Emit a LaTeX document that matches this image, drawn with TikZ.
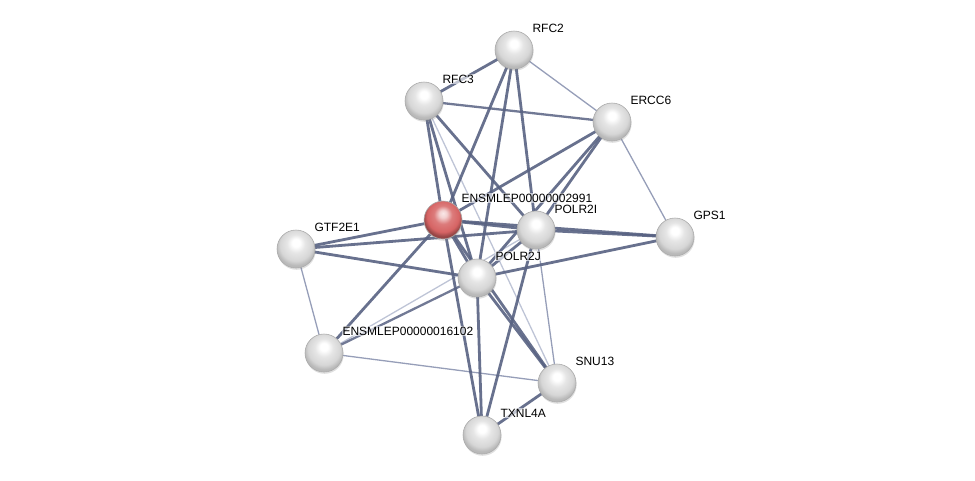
\documentclass[tikz,border=0pt]{standalone}
\usepackage{fontspec}
\setmainfont{Liberation Sans}
\usetikzlibrary{backgrounds,shadows}
\definecolor{edgedark}{RGB}{88,98,130}
\definecolor{edgethin}{RGB}{150,158,184}
\definecolor{edgelight}{RGB}{190,196,214}
\definecolor{protred}{RGB}{214,100,100}
\pgfdeclareradialshading{greyball}{\pgfpoint{0bp}{9bp}}{%
  color(0bp)=(white); color(5bp)=(white); color(12bp)=(gray!20);
  color(21bp)=(gray!32); color(26bp)=(gray!55); color(50bp)=(gray!55)}
\pgfdeclareradialshading{redball}{\pgfpoint{0bp}{9bp}}{%
  color(0bp)=(protred!15!white); color(5bp)=(protred!30!white); color(12bp)=(protred!85!white);
  color(21bp)=(protred); color(26bp)=(protred!70!black); color(50bp)=(protred!70!black)}
\tikzset{
  prot/.style={circle, minimum size=38pt, inner sep=0pt, shading=greyball, draw=gray!65, line width=0.6pt,
    drop shadow={opacity=0.25, shadow xshift=0.6pt, shadow yshift=-1.8pt}},
  seed/.style={circle, minimum size=38pt, inner sep=0pt, shading=redball, draw=gray!65, line width=0.6pt,
    drop shadow={opacity=0.25, shadow xshift=0.6pt, shadow yshift=-1.8pt}},
  lbl/.style={anchor=base west, inner sep=0.8pt, fill=white, fill opacity=0.6, text opacity=1, font=\fontsize{12}{14}\selectfont},
  strong/.style={draw=edgedark, line width=2.8pt, opacity=0.9},
  medium/.style={draw=edgedark, line width=2.3pt, opacity=0.85},
  weak/.style={draw=edgethin, line width=1.3pt},
  faint/.style={draw=edgelight, line width=1.3pt},
}
\begin{document}
\begin{tikzpicture}[x=1pt,y=-1pt]
\useasboundingbox (0,0) rectangle (975,480);
% nodes
\node[prot] (RFC2) at (514,50) {};
\node[prot] (RFC3) at (424,101) {};
\node[prot] (ERCC6) at (612,122) {};
\node[seed] (E2991) at (443,220) {};
\node[prot] (POLR2I) at (536,230) {};
\node[prot] (GPS1) at (675,237) {};
\node[prot] (GTF2E1) at (296,249) {};
\node[prot] (POLR2J) at (477,278) {};
\node[prot] (E16102) at (324,353) {};
\node[prot] (SNU13) at (557,383) {};
\node[prot] (TXNL4A) at (482,435) {};
% labels
\node[lbl] (lRFC2) at ([shift={(17.5,-18)}]RFC2.center) {RFC2};
\node[lbl] (lRFC3) at ([shift={(17.5,-18)}]RFC3.center) {RFC3};
\node[lbl] (lERCC6) at ([shift={(17.5,-18)}]ERCC6.center) {ERCC6};
\node[lbl] (lE2991) at ([shift={(17.5,-18)}]E2991.center) {ENSMLEP00000002991};
\node[lbl] (lPOLR2I) at ([shift={(17.5,-17)}]POLR2I.center) {POLR2I};
\node[lbl] (lGPS1) at ([shift={(17.5,-18)}]GPS1.center) {GPS1};
\node[lbl] (lGTF2E1) at ([shift={(17.5,-17.5)}]GTF2E1.center) {GTF2E1};
\node[lbl] (lPOLR2J) at ([shift={(17.5,-18)}]POLR2J.center) {POLR2J};
\node[lbl] (lE16102) at ([shift={(17.5,-17.5)}]E16102.center) {ENSMLEP00000016102};
\node[lbl] (lSNU13) at ([shift={(17.5,-18)}]SNU13.center) {SNU13};
\node[lbl] (lTXNL4A) at ([shift={(17.5,-18)}]TXNL4A.center) {TXNL4A};
\begin{pgfonlayer}{background}
% weak edges
\draw[weak] (RFC2.center) -- (ERCC6.center);
\draw[weak] (ERCC6.center) -- (GPS1.center);
\draw[weak] (GTF2E1.center) -- (E16102.center);
\draw[weak] (E16102.center) -- (SNU13.center);
\draw[weak] (POLR2I.center) -- (SNU13.center);
\draw[faint] (RFC3.center) -- (SNU13.center);
\draw[faint] (POLR2I.center) -- (E16102.center);
% strong edges
\draw[strong] (RFC2.center) -- (RFC3.center);
\draw[medium] (RFC3.center) -- (ERCC6.center);
\draw[strong] (RFC3.center) -- (E2991.center);
\draw[strong] (RFC3.center) -- (POLR2J.center);
\draw[strong] (RFC3.center) -- (POLR2I.center);
\draw[strong] (RFC2.center) -- (E2991.center);
\draw[strong] (RFC2.center) -- (POLR2J.center);
\draw[strong] (RFC2.center) -- (POLR2I.center);
\draw[strong] (ERCC6.center) -- (E2991.center);
\draw[strong] (ERCC6.center) -- (POLR2I.center);
\draw[strong] (ERCC6.center) -- (POLR2J.center);
\draw[strong] (E2991.center) -- (GTF2E1.center);
\draw[strong] (E2991.center) -- (POLR2I.center);
\draw[strong] (E2991.center) -- (GPS1.center);
\draw[strong] (E2991.center) -- (POLR2J.center);
\draw[strong] (E2991.center) -- (E16102.center);
\draw[strong] (E2991.center) -- (TXNL4A.center);
\draw[strong] (E2991.center) -- (SNU13.center);
\draw[strong] (GTF2E1.center) -- (POLR2I.center);
\draw[strong] (GTF2E1.center) -- (POLR2J.center);
\draw[strong] (POLR2I.center) -- (GPS1.center);
\draw[strong] (POLR2I.center) -- (POLR2J.center);
\draw[strong] (POLR2I.center) -- (TXNL4A.center);
\draw[strong] (POLR2J.center) -- (GPS1.center);
\draw[medium] (POLR2J.center) -- (E16102.center);
\draw[strong] (POLR2J.center) -- (SNU13.center);
\draw[strong] (POLR2J.center) -- (TXNL4A.center);
\draw[strong] (SNU13.center) -- (TXNL4A.center);
\end{pgfonlayer}
\end{tikzpicture}
\end{document}
